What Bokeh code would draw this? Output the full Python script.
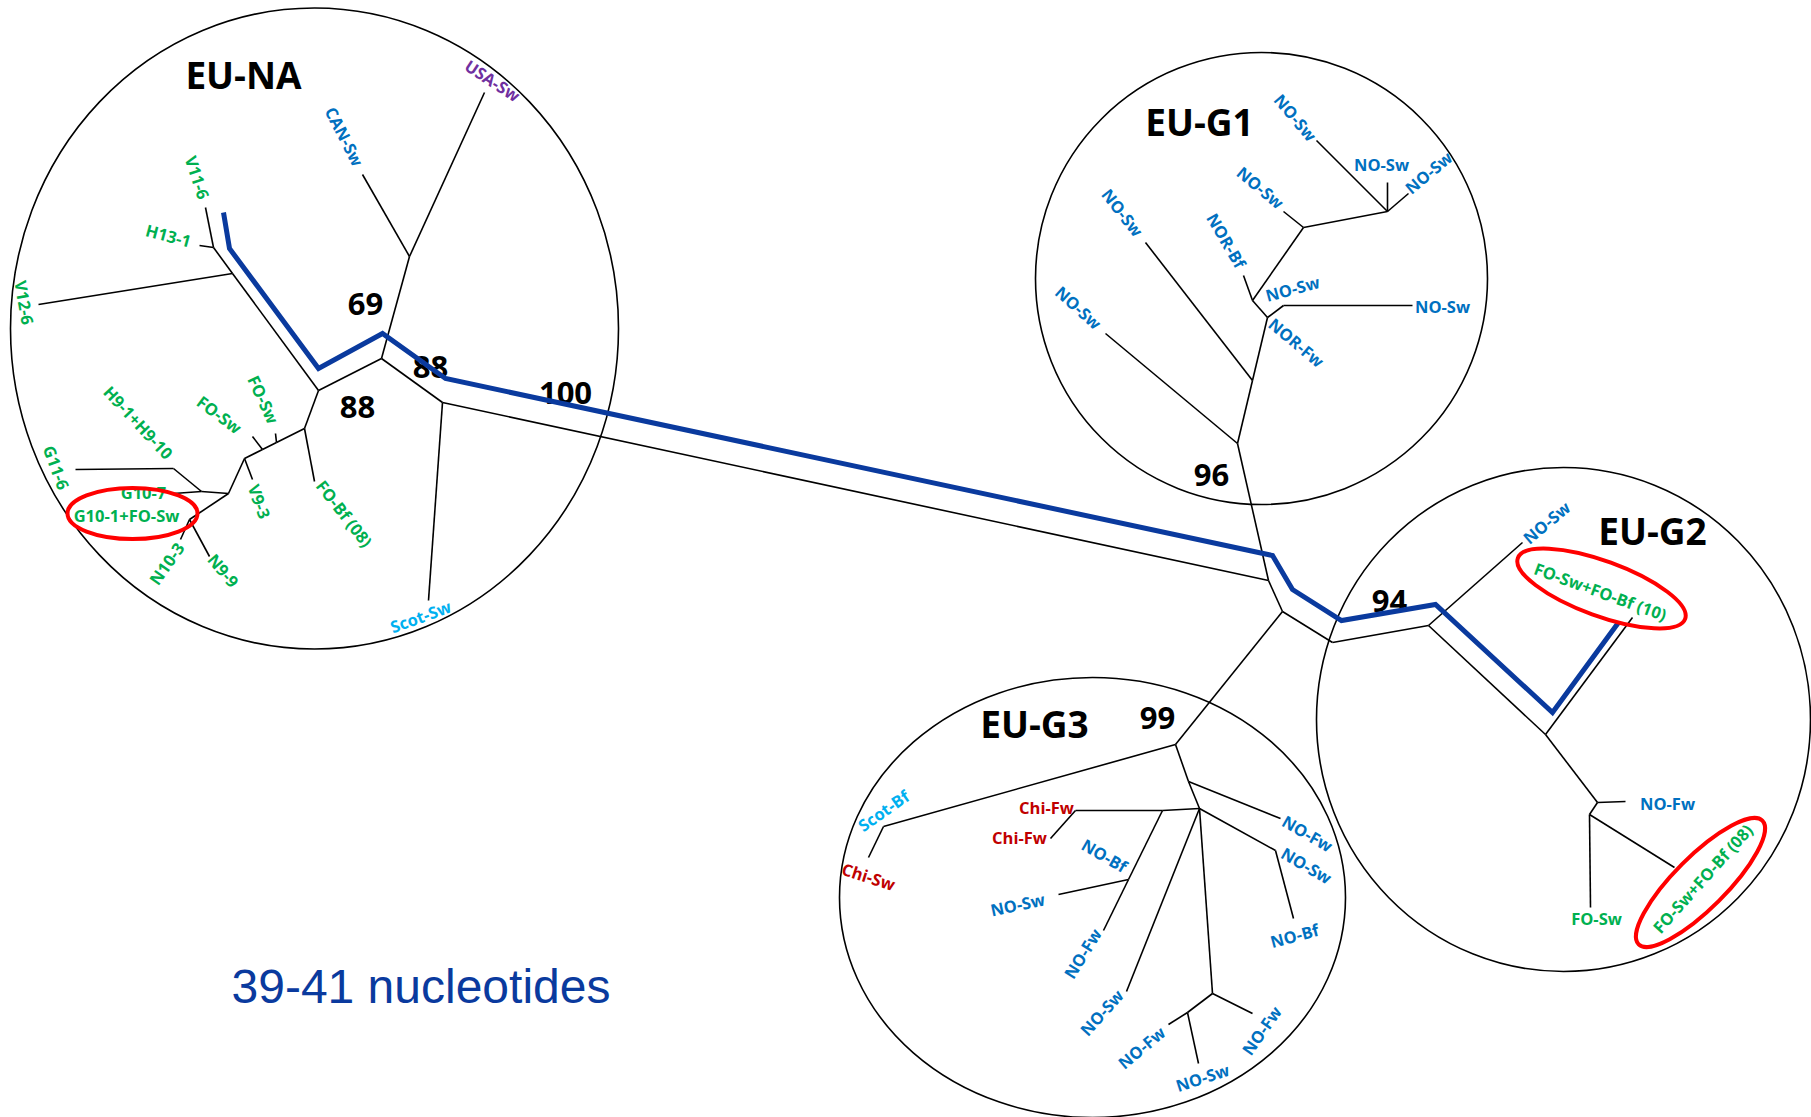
from bokeh.plotting import figure
from bokeh.models import Range1d, ColumnDataSource
from bokeh.embed import file_html
from bokeh.resources import INLINE
from bokeh.core.properties import value

# ---------------- data: tree nodes (layout coordinates of the unrooted tree) ----------------
node_id = ["na_usa", "na_can", "na_n1", "na_n2", "na_n3", "na_n4", "na_scot", "na_v11n", "na_v11", "na_h13",
           "na_v12a", "na_v12", "na_n5", "na_fobf", "na_fo2a", "na_fo2", "na_fo1a", "na_fo1", "na_n6", "na_v93",
           "na_n7", "na_n8", "na_g116b", "na_g116", "na_g107", "na_n9", "na_n103", "na_n99",
           "c1", "c2", "c3",
           "g1_root", "g1_l1", "g1_n1", "g1_l2", "g1_n2", "g1_n3", "g1_l3", "g1_n4", "g1_l4", "g1_n5", "g1_l5",
           "g1_n6", "g1_l6", "g1_l7", "g1_l8",
           "g2_a", "g2_l1", "g2_b", "g2_l2", "g2_c", "g2_l3", "g2_d", "g2_l4", "g2_l5",
           "g3_root", "g3_s", "g3_l1", "g3_e", "g3_l2", "g3_f", "g3_p", "g3_q", "g3_l3", "g3_r", "g3_l4",
           "g3_l5", "g3_l6", "g3_g", "g3_l7", "g3_h", "g3_l8", "g3_l9", "g3_i", "g3_l10"]
node_x = [484, 362, 409, 381, 318, 442, 428, 213, 205, 199,
          232, 38, 304, 314, 276, 275, 262, 252, 244, 252,
          228, 201, 173, 75, 173, 189, 180, 209,
          1268, 1282, 1332,
          1237, 1105, 1252, 1145, 1267, 1283, 1412, 1252, 1243, 1303, 1283,
          1387, 1316, 1387, 1408,
          1428, 1522, 1545, 1632, 1597, 1625, 1589, 1590, 1674,
          1175, 883, 868, 1188, 1280, 1199, 1162, 1075, 1050, 1128, 1058,
          1103, 1126, 1212, 1252, 1187, 1168, 1198, 1275, 1293]
node_y = [92, 174, 256, 358, 390, 402, 600, 247, 207, 245,
          273, 304, 428, 481, 442, 433, 449, 436, 458, 479,
          493, 491, 468, 469, 493, 519, 539, 556,
          580, 611, 642,
          443, 333, 380, 242, 317, 305, 305, 300, 275, 227, 211,
          211, 140, 182, 193,
          625, 542, 734, 617, 802, 801, 814, 907, 867,
          744, 826, 857, 781, 818, 808, 810, 810, 838, 879, 894,
          930, 991, 993, 1013, 1012, 1024, 1063, 850, 918]

edge_from = ["na_usa", "na_can", "na_n1", "na_n2", "na_n2", "na_n4", "na_n4",
             "na_n3", "na_v12a", "na_v12a", "na_v11n", "na_v11n",
             "na_n3", "na_n5", "na_n5", "na_fo2a", "na_fo2a", "na_fo1a", "na_fo1a", "na_n6", "na_n6",
             "na_n7", "na_n8", "na_g116b", "na_n8", "na_n7", "na_n9", "na_n9",
             "c1", "c1", "c2", "c2", "c3",
             "g1_root", "g1_root", "g1_n1", "g1_n1", "g1_n2", "g1_n3", "g1_n2", "g1_n4", "g1_n4", "g1_n5",
             "g1_n5", "g1_n6", "g1_n6", "g1_n6",
             "g2_a", "g2_a", "g2_b", "g2_b", "g2_c", "g2_c", "g2_d", "g2_d",
             "g3_root", "g3_s", "g3_root", "g3_e", "g3_e", "g3_f", "g3_p", "g3_q", "g3_p", "g3_r", "g3_r",
             "g3_f", "g3_f", "g3_g", "g3_g", "g3_h", "g3_h", "g3_f", "g3_i"]
edge_to = ["na_n1", "na_n1", "na_n2", "na_n3", "na_n4", "na_scot", "c1",
           "na_v12a", "na_v11n", "na_v12", "na_v11", "na_h13",
           "na_n5", "na_fobf", "na_fo2a", "na_fo2", "na_fo1a", "na_fo1", "na_n6", "na_v93", "na_n7",
           "na_n8", "na_g116b", "na_g116", "na_g107", "na_n9", "na_n103", "na_n99",
           "g1_root", "c2", "g3_root", "c3", "g2_a",
           "g1_l1", "g1_n1", "g1_l2", "g1_n2", "g1_n3", "g1_l3", "g1_n4", "g1_l4", "g1_n5", "g1_l5",
           "g1_n6", "g1_l6", "g1_l7", "g1_l8",
           "g2_l1", "g2_b", "g2_l2", "g2_c", "g2_l3", "g2_d", "g2_l4", "g2_l5",
           "g3_s", "g3_l1", "g3_e", "g3_l2", "g3_f", "g3_p", "g3_q", "g3_l3", "g3_r", "g3_l4", "g3_l5",
           "g3_l6", "g3_g", "g3_l7", "g3_h", "g3_l8", "g3_l9", "g3_i", "g3_l10"]

# highlighted path (thick blue)
path_x = [223, 229, 318, 382, 445, 1272, 1292, 1341, 1435, 1552, 1618]
path_y = [212, 248, 368, 333, 378, 555, 589, 620, 604, 712, 622]

# leaf labels
leaf_text = ["USA-Sw", "CAN-Sw", "V11-6", "H13-1", "V12-6", "H9-1+H9-10", "FO-Sw", "FO-Sw", "G11-6", "G10-7",
             "G10-1+FO-Sw", "V9-3", "FO-Bf (08)", "N10-3", "N9-9", "Scot-Sw",
             "NO-Sw", "NO-Sw", "NO-Sw", "NO-Sw", "NOR-Bf", "NO-Sw", "NO-Sw", "NO-Sw", "NO-Sw", "NOR-Fw",
             "NO-Sw", "FO-Sw+FO-Bf (10)", "NO-Fw", "FO-Sw", "FO-Sw+FO-Bf (08)",
             "Scot-Bf", "Chi-Sw", "Chi-Fw", "Chi-Fw", "NO-Bf", "NO-Sw", "NO-Fw", "NO-Sw", "NO-Fw", "NO-Sw",
             "NO-Fw", "NO-Fw", "NO-Sw", "NO-Bf"]
leaf_origin = ["USA", "CAN", "FO", "FO", "FO", "FO", "FO", "FO", "FO", "FO",
               "FO", "FO", "FO", "FO", "FO", "Scot",
               "NO", "NO", "NO", "NO", "NO", "NO", "NO", "NO", "NO", "NO",
               "NO", "FO", "NO", "FO", "FO",
               "Scot", "Chi", "Chi", "Chi", "NO", "NO", "NO", "NO", "NO", "NO",
               "NO", "NO", "NO", "NO"]
leaf_x = [492, 344, 197, 168, 24, 138, 219, 263, 56, 143,
          126, 259, 344, 166, 223, 420,
          1295, 1381, 1428, 1260, 1226, 1122, 1078, 1292, 1442, 1296,
          1546, 1600, 1667, 1596, 1702,
          883, 868, 1046, 1019, 1104, 1017, 1082, 1101, 1141, 1202,
          1261, 1307, 1306, 1294]
leaf_y = [80, 136, 177, 235, 302, 422, 414, 399, 467, 492,
          515, 501, 513, 563, 570, 616,
          117, 164, 172, 187, 240, 212, 307, 288, 306, 342,
          522, 591, 803, 918, 878,
          810, 876, 807, 837, 855, 904, 953, 1012, 1047, 1077,
          1030, 833, 865, 935]
leaf_angle = [-33, -63, -72, -15, -80, -47, -37, -65, -70, 0,
              0, -70, -52, 55, -50, 20,
              -50, 0, 40, -40, -60, -52, -42, 15, 0, -40,
              40, -20, 0, 0, 48,
              35, -18, 0, 0, -30, 12, 58, 48, 40, 18,
              55, -30, -30, 15]

# clades
clade_name = ["EU-NA", "EU-G1", "EU-G2", "EU-G3"]
clade_cx = [314, 1261, 1563, 1092]
clade_cy = [328, 278, 719, 897]
clade_w = [608, 452, 494, 506]
clade_h = [641, 452, 504, 440]
clade_lx = [243, 1199, 1652, 1034]
clade_ly = [74, 121, 530, 723]

# bootstrap support
boot_val = ["69", "88", "88", "100", "96", "94", "99"]
boot_x = [365, 357, 430, 565, 1211, 1389, 1157]
boot_y = [303, 406, 366, 392, 474, 600, 717]

# highlighted samples (red ellipses)
hl_x = [132, 1601, 1700]
hl_y = [513, 588, 882]
hl_w = [130, 178, 175]
hl_h = [51, 55, 52]
hl_angle = [0, -20, 45]

caption = "39-41 nucleotides"

# ---------------- drawing ----------------
origin_color = {"USA": "#7030A0", "CAN": "#0070C0", "FO": "#00B050", "NO": "#0070C0",
                "Scot": "#00B0F0", "Chi": "#C00000"}

W, H = 1811, 1117
p = figure(width=W, height=H, output_backend="svg", toolbar_location=None,
           x_range=Range1d(0, W), y_range=Range1d(H, 0),
           min_border=0, x_axis_location=None, y_axis_location=None)
p.grid.visible = False
p.outline_line_color = None
p.background_fill_color = "white"

p.ellipse(x=clade_cx, y=clade_cy, width=clade_w, height=clade_h,
          fill_color=None, line_color="black", line_width=1.6)

pos = {n: (x, y) for n, x, y in zip(node_id, node_x, node_y)}
seg = ColumnDataSource(dict(
    x0=[pos[a][0] for a in edge_from], y0=[pos[a][1] for a in edge_from],
    x1=[pos[b][0] for b in edge_to], y1=[pos[b][1] for b in edge_to]))
p.segment("x0", "y0", "x1", "y1", source=seg, line_color="black", line_width=1.6)

leaf_src = ColumnDataSource(dict(x=leaf_x, y=leaf_y, text=leaf_text, angle=leaf_angle,
                                 color=[origin_color[o] for o in leaf_origin]))
p.text("x", "y", text="text", angle="angle", angle_units="deg", text_color="color", source=leaf_src,
       text_font=value("Open Sans"), text_font_style="bold", text_font_size="16.5px",
       text_align="center", text_baseline="middle")

p.text(x=clade_lx, y=clade_ly, text=clade_name, text_font=value("Open Sans"), text_font_style="bold",
       text_font_size="37px", text_align="center", text_baseline="middle", text_color="black")
p.text(x=boot_x, y=boot_y, text=boot_val, text_font=value("Open Sans"), text_font_style="bold",
       text_font_size="31px", text_align="center", text_baseline="middle", text_color="black")

p.text(x=[231], y=[986], text=[caption], text_font=value("Liberation Sans"),
       text_font_size="48px", text_align="left", text_baseline="middle", text_color="#0A3A9E")

p.line(path_x, path_y, line_color="#0A3A9E", line_width=5, line_join="miter")

p.ellipse(x=hl_x, y=hl_y, width=hl_w, height=hl_h, angle=hl_angle, angle_units="deg",
          fill_color=None, line_color="#FF0000", line_width=4)

open("out.html", "w").write(file_html(p, INLINE))
